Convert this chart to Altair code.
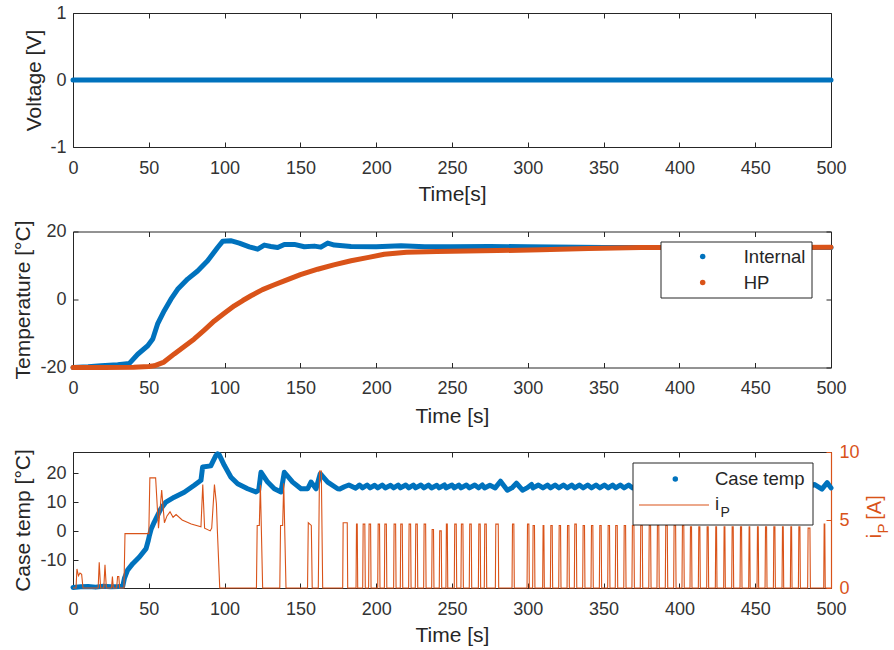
import altair as alt
import pandas as pd

BLUE = "#0072BD"
ORANGE = "#D95319"
INK = "#262626"
LABEL = "#333333"
FONT = "Liberation Sans"

# ---------------- data ----------------
x_ticks = [0, 50, 100, 150, 200, 250, 300, 350, 400, 450, 500]

# panel 1: voltage
volt_time = [0, 100, 200, 300, 400, 500]
volt_value = [0, 0, 0, 0, 0, 0]
volt_ticks = [-1, 0, 1]

# panel 2: temperatures
internal_time = [0, 10, 18.5, 29.5, 37.2, 42.7, 49.3, 52.6, 55.8, 60.2, 64.6, 69, 75.6, 82.2, 88.8,
                 95.4, 98.7, 104, 109.7, 116.3, 121.8, 126.2, 130.5, 135, 139.4, 146, 152.6, 159.2,
                 163.5, 168, 172.4, 183.4, 200, 216.4, 232, 249.3, 275, 300, 350, 400, 450, 500]
internal_temp = [-20, -19.8, -19.5, -19.2, -18.8, -16.1, -13.6, -11.6, -7.2, -3.3, 0.1, 3.0, 6.0, 8.4, 11.4,
                 15.3, 17.1, 17.3, 16.6, 15.5, 14.8, 16.0, 15.6, 15.3, 16.2, 16.2, 15.5, 15.7,
                 15.4, 16.6, 16.0, 15.6, 15.5, 15.8, 15.5, 15.5, 15.6, 15.5, 15.3, 15.3, 15.3, 15.3]
hp_time = [0, 20, 40, 50, 53.6, 60, 66.8, 73.4, 80, 86.6, 93.2, 100, 106.4, 112, 117.4, 125, 132,
           139.4, 150, 161.4, 172, 183.4, 195, 205.3, 220, 240, 260, 280, 308.7, 340, 374.7, 420, 460, 500]
hp_temp = [-20, -20, -19.9, -19.7, -19.5, -18.4, -16, -13.8, -11.6, -9.0, -6.3, -4.0, -1.85, -0.3, 1.1, 2.9, 4.2,
           5.5, 7.3, 8.9, 10.2, 11.4, 12.4, 13.3, 13.9, 14.1, 14.3, 14.4, 14.6, 15.0, 15.3, 15.3, 15.3, 15.4]
temp_ticks = [-20, 0, 20]

# panel 3: case temperature
case_time = [0, 5, 10, 15, 20, 25, 30, 32.8, 33.9, 36, 39.4, 43.8, 48.2, 49.7, 50.3, 51.5, 53.6, 55.8,
             58, 61.3, 66.8, 73.4, 80, 84.4, 85.5, 90.9, 92.1, 94.3, 95.4, 96.5, 99.8, 104.2, 108.6,
             115.2, 120.7, 122.5, 124, 128.4, 132.8, 137.2, 139.4, 144.9, 150.4, 154.8, 157, 160.3,
             163.1, 168, 174.6,
             176, 179, 182, 186.5, 189, 191, 194, 196, 199, 201, 204, 206, 209.5, 211.5, 214.5, 216,
             219.5, 221.5, 224.5, 226, 229.5, 231.5, 234.5, 236.5, 240, 241.5, 245, 246, 250, 251.5,
             254.5, 256, 259.5, 261.5, 265, 267.5, 270, 271.5, 275, 278.5, 282, 286.5, 289.5, 292.5,
             296.5, 299.5, 302.5, 303.5, 307, 310, 313, 315, 318, 320.5, 323.5, 326, 329, 331, 334,
             336.5, 339.5, 342, 345, 347.5, 350.5, 353, 356, 358, 361, 363.5, 366.5, 369, 372, 374.5,
             377.5, 380, 383, 385.5, 388.5, 391, 394, 396.5, 399.5, 402, 405, 407, 410, 412.5, 415.5,
             418, 421, 424, 427, 429.5, 432.5, 434.5, 437.5, 440, 443, 446, 449, 451.5, 454.5, 456.5,
             459.5, 462, 465, 468, 471, 473.5, 476.5, 478.5, 481.5, 485, 489, 494, 497.5, 500]
case_temp = [-19.4, -19.2, -19.1, -19.3, -19.0, -19.2, -19.1, -19.0, -16.3, -13.4, -11.2, -8.9, -6.0, -3.1, -1.7, 0.7, 3.2, 5.5,
             7.8, 10.1, 11.8, 13.5, 15.9, 17.6, 22.2, 22.6, 23.9, 26.2, 26.8, 26.4, 22.8, 18.7, 16.4,
             14.7, 13.6, 14.2, 20.4, 17.0, 14.7, 13.6, 20.4, 17.0, 14.7, 14.7, 17.0, 14.7,
             19.9, 17.0, 14.7,
             14.6, 15.4, 16.0, 14.9, 16.0, 15.0, 16.0, 15.0, 15.9, 15.0, 16.0, 15.0, 15.9, 15.0, 16.0, 15.0,
             16.0, 15.0, 16.0, 15.0, 16.0, 15.0, 16.0, 15.0, 15.9, 15.0, 16.0, 15.0, 16.0, 15.0,
             16.0, 15.0, 16.0, 15.0, 16.0, 15.0, 16.0, 15.0, 15.9, 15.0, 17.3, 14.2, 15.0, 16.6,
             14.2, 15.0, 16.2, 15.0, 16.0, 15.0, 16.0, 15.0, 16.0, 15.0, 16.0, 15.0, 16.0, 15.0, 16.0,
             15.0, 16.0, 15.0, 16.0, 15.0, 16.0, 15.0, 16.0, 15.0, 16.0, 15.0, 16.0, 15.0, 16.0, 15.0,
             16.0, 15.0, 16.0, 15.0, 16.0, 15.0, 16.0, 15.0, 16.0, 15.0, 16.0, 15.0, 16.0, 15.0, 16.0,
             15.0, 16.0, 15.0, 16.0, 15.0, 16.0, 15.0, 16.0, 15.0, 16.0, 15.0, 16.0, 15.0, 16.0, 15.0,
             16.0, 15.0, 16.0, 15.0, 16.0, 15.0, 16.0, 15.0, 16.0, 15.0, 16.2, 14.6, 16.8, 15.0]
case_ticks = [-10, 0, 10, 20]

# panel 3: heater current i_P, irregular start
ip_time = [0, 2, 2.6, 3.6, 4.6, 5.7, 6.6, 16.6, 17.3, 18.2, 20.3, 21.1, 22.0, 25.4, 26.0, 26.6,
           28.8, 29.4, 30.2, 30.8, 33.6, 34.3, 50.0, 50.7, 54.5, 56.4, 58.5, 60.3, 62, 64, 66, 68,
           72, 78, 84.4, 85.6, 86.8, 90.5, 91.5, 93.3, 94.6, 95.2, 96.8,
           121.0, 121.5, 122.9, 123.6, 125.1, 136.4, 136.9, 138.3, 139.0, 140.5,
           154.7, 155.2, 157.2, 157.8, 161.8, 162.6, 163.8, 164.7]
ip_current = [0, 0, 1.4, 0.9, 1.1, 1.0, 0, 0, 1.9, 0, 0, 1.7, 0, 0, 0.85, 0,
              0, 0.85, 0.85, 0, 0, 4.0, 4.0, 8.1, 8.1, 4.4, 7.2, 4.8, 5.3, 5.6, 5.2, 5.4,
              5.0, 4.7, 4.5, 7.6, 4.4, 4.2, 4.4, 7.6, 6.2, 4.3, 0,
              0, 4.6, 4.6, 7.6, 0, 0, 4.6, 4.6, 7.7, 0,
              0, 4.8, 4.6, 0, 0, 8.6, 8.6, 0]
# regular pulses: on time, off time, peak current
pulse_start = [177.9, 186.7, 191.1, 195.0, 201.0, 205.4, 211.5, 215.9, 221.4, 225.8, 231.3, 236.6,
               241.6, 246.0, 251.5, 255.9, 261.4, 267.4, 271.3, 278.6, 289.6, 299.5, 303.2, 309.8,
               314.9, 320.4, 325.9, 330.7, 336.2, 341.7, 347.2, 352.7, 357.7, 363.3, 368.7, 374.2,
               379.8, 385.2, 390.7, 396.2, 401.7, 407.0, 412.5, 418.0, 423.7, 429.2, 434.5, 440.0,
               445.7, 451.2, 456.5, 462.0, 467.7, 473.2, 478.5, 484.6, 495.2]
pulse_end = [181.2, 187.8, 192.8, 196.6, 202.5, 207.0, 213.1, 217.5, 223.0, 227.4, 232.9, 238.1,
             243.2, 247.2, 253.1, 257.5, 263.0, 268.9, 272.9, 280.8, 291.1, 301.0, 304.7, 310.9,
             316.4, 321.9, 327.4, 332.3, 337.7, 343.2, 348.7, 354.2, 359.3, 364.8, 370.3, 375.8,
             381.3, 386.7, 392.3, 397.8, 403.2, 408.3, 413.8, 419.3, 424.8, 430.3, 435.8, 441.3,
             446.7, 452.3, 457.8, 463.3, 468.8, 474.3, 479.8, 486.4, 496.2]
pulse_peak = [4.8, 4.7, 4.7, 4.7, 4.7, 4.7, 4.7, 4.7, 4.7, 4.7, 4.7, 4.3,
              4.2, 4.7, 4.7, 4.7, 4.7, 4.7, 4.7, 4.7, 4.7, 4.7, 4.6, 4.6,
              4.6, 4.6, 4.6, 4.7, 4.6, 4.6, 4.6, 4.6, 4.6, 4.6, 4.6, 4.6,
              4.6, 4.6, 4.6, 4.6, 4.6, 4.5, 4.5, 4.5, 4.5, 4.5, 4.5, 4.5,
              4.5, 4.5, 4.5, 4.5, 4.5, 4.5, 4.5, 4.4, 4.7]
ip_ticks = [0, 5, 10]

# ---------------- tables ----------------
volt_df = pd.DataFrame({"time": volt_time, "value": volt_value})
int_df = pd.DataFrame({"time": internal_time, "temp": internal_temp})
int_df["i"] = range(len(int_df))
hp_df = pd.DataFrame({"time": hp_time, "temp": hp_temp})
hp_df["i"] = range(len(hp_df))
case_df = pd.DataFrame({"time": case_time, "temp": case_temp})
case_df["i"] = range(len(case_df))

ip_rows = list(zip(ip_time, ip_current))
for s, e, p in zip(pulse_start, pulse_end, pulse_peak):
    ip_rows += [(s, 0.0), (s + 0.3, p), (e - 0.3, p), (e, 0.0)]
ip_rows.append((500, 0.0))
ip_df = pd.DataFrame(ip_rows, columns=["time", "current"])
ip_df["i"] = range(len(ip_df))

# ---------------- helpers ----------------
W = 758
H1, H2, H3 = 134, 136, 136
TICK = 5


def xscale():
    return alt.Scale(domain=[0, 500], nice=False, zero=False)


def x_bottom(title, title_y):
    return alt.Axis(orient="bottom", values=x_ticks, offset=-TICK, tickSize=TICK, domain=False,
                    grid=False, labelPadding=12, labelFlush=False, labelOverlap=False,
                    labelExpr="datum.value + ''", title=title,
                    titleY=title_y, titleBaseline="middle")


def x_top():
    return alt.Axis(orient="top", values=x_ticks, offset=-TICK, tickSize=TICK, domain=False,
                    grid=False, labels=False, title=None)


def y_left(values, title, title_x, h):
    return alt.Axis(orient="left", values=values, offset=-TICK, tickSize=TICK, domain=False,
                    grid=False, labelPadding=7, labelFlush=False, labelOverlap=False,
                    labelExpr="datum.value + ''", title=title,
                    titleX=title_x, titleY=h / 2, titleAngle=270, titleBaseline="middle",
                    titleAlign="center")


def y_right_ticks(values):
    return alt.Axis(orient="right", values=values, offset=-TICK, tickSize=TICK, domain=False,
                    grid=False, labels=False, title=None)


one = alt.Data(values=[{}])


def txt(s, x, y, size=18.5, color=INK, align="left", angle=0):
    return alt.Chart(one).mark_text(text=s, font=FONT, fontSize=size, color=color, align=align,
                                    baseline="middle", angle=angle).encode(
        x=alt.value(x), y=alt.value(y))


def box(x1, x2, y1, y2):
    return alt.Chart(one).mark_rect(fill="white", stroke=INK, strokeWidth=1).encode(
        x=alt.value(x1), x2=alt.value(x2), y=alt.value(y1), y2=alt.value(y2))


# ---------------- panel 1 ----------------
v_scale = alt.Scale(domain=[-1, 1], nice=False, zero=False)
p1_data = alt.Chart(volt_df).mark_line(color=BLUE, strokeWidth=5, strokeCap="round").encode(
    x=alt.X("time:Q", scale=xscale(), axis=x_bottom("Time[s]", 52)),
    y=alt.Y("value:Q", scale=v_scale, axis=y_left(volt_ticks, "Voltage [V]", -43.5, H1)),
)
p1_frame = alt.Chart(volt_df).mark_point(opacity=0).encode(
    x=alt.X("time:Q", scale=xscale(), axis=x_top()),
    y=alt.Y("value:Q", scale=v_scale, axis=y_right_ticks(volt_ticks)),
)
pin = alt.Chart(one).mark_rule(strokeOpacity=0, strokeWidth=1).encode(
    x=alt.value(-72), x2=alt.value(0), y=alt.value(-12))
p1 = alt.layer(p1_data, p1_frame, pin).resolve_scale(x="independent", y="independent").properties(
    width=W, height=H1)

# ---------------- panel 2 ----------------
t_scale = lambda: alt.Scale(domain=[-20, 20], nice=False, zero=False)
p2_int = alt.Chart(int_df).mark_line(color=BLUE, strokeWidth=5, strokeCap="round",
                                     strokeJoin="round").encode(
    x=alt.X("time:Q", scale=xscale(), axis=x_bottom("Time [s]", 53.5)),
    y=alt.Y("temp:Q", scale=t_scale(), axis=y_left(temp_ticks, "Temperature [°C]", -54.5, H2)),
    order="i:Q",
)
p2_hp = alt.Chart(hp_df).mark_line(color=ORANGE, strokeWidth=5, strokeCap="round",
                                   strokeJoin="round").encode(
    x=alt.X("time:Q", scale=xscale(), axis=x_top()),
    y=alt.Y("temp:Q", scale=t_scale(), axis=y_right_ticks(temp_ticks)),
    order="i:Q",
)
p2_leg = [
    box(588, 739, 10.5, 66.5),
    alt.Chart(one).mark_point(filled=True, color=BLUE, size=30, opacity=1).encode(
        x=alt.value(629.7), y=alt.value(25)),
    alt.Chart(one).mark_point(filled=True, color=ORANGE, size=30, opacity=1).encode(
        x=alt.value(629.7), y=alt.value(51)),
    txt("Internal", 670.7, 25),
    txt("HP", 670.7, 51),
]
p2 = alt.layer(p2_int, p2_hp, *p2_leg).resolve_scale(x="independent", y="independent").properties(
    width=W, height=H2)

# ---------------- panel 3 ----------------
c_scale = alt.Scale(domain=[-19.6, 27.4], nice=False, zero=False)
i_scale = lambda: alt.Scale(domain=[0, 10], nice=False, zero=False)
p3_case = alt.Chart(case_df).mark_line(color=BLUE, strokeWidth=5, strokeCap="round",
                                       strokeJoin="round").encode(
    x=alt.X("time:Q", scale=xscale(), axis=x_bottom("Time [s]", 52)),
    y=alt.Y("temp:Q", scale=c_scale, axis=y_left(case_ticks, "Case temp [°C]", -54.5, H3)),
    order="i:Q",
)
p3_ip = alt.Chart(ip_df).mark_line(color=ORANGE, strokeWidth=1.1).encode(
    x=alt.X("time:Q", scale=xscale(), axis=x_top()),
    y=alt.Y("current:Q", scale=i_scale(),
            axis=alt.Axis(orient="right", values=ip_ticks, offset=-TICK, tickSize=TICK, domain=False,
                          grid=False, labelPadding=8, labelColor=ORANGE, tickColor=ORANGE,
                          labelFlush=False, labelOverlap=False,
                          labelExpr="datum.value + ''", title=None)),
    order="i:Q",
)
p3_edge = alt.Chart(ip_df).mark_point(opacity=0).encode(
    y=alt.Y("current:Q", scale=i_scale(),
            axis=alt.Axis(orient="right", values=ip_ticks, offset=0, domain=True, domainColor=ORANGE,
                          domainWidth=1.2, ticks=False, labels=False, grid=False, title=None)),
)
p3_leg = [
    box(560, 740, 11, 73),
    alt.Chart(one).mark_point(filled=True, color=BLUE, size=30, opacity=1).encode(
        x=alt.value(602.3), y=alt.value(27)),
    txt("Case temp", 642, 27),
    alt.Chart(one).mark_rule(color=ORANGE, strokeWidth=1.1).encode(
        x=alt.value(566), x2=alt.value(636), y=alt.value(53)),
    txt("i", 642, 52),
    txt("P", 647.5, 61, size=14),
    # right axis title  i_P [A]
    txt("i", 802, 84, size=20, color=ORANGE, align="center", angle=270),
    txt("P", 810, 76.5, size=15, color=ORANGE, align="center", angle=270),
    txt("[A]", 802, 55.5, size=20, color=ORANGE, align="center", angle=270),
]
p3 = alt.layer(p3_case, p3_ip, p3_edge, *p3_leg).resolve_scale(
    x="independent", y="independent").properties(width=W, height=H3)

chart = alt.vconcat(p1, p2, p3, spacing=84.5, bounds="flush").properties(
    padding=0, background="white"
).configure_view(stroke=INK, strokeWidth=1).configure_axis(
    labelFont=FONT, titleFont=FONT, labelFontSize=18, titleFontSize=21, labelColor=LABEL,
    titleColor=INK, titleFontWeight="normal", tickColor=INK, tickWidth=1
)

chart.save("out.html", embed_options={"renderer": "svg", "actions": False})
